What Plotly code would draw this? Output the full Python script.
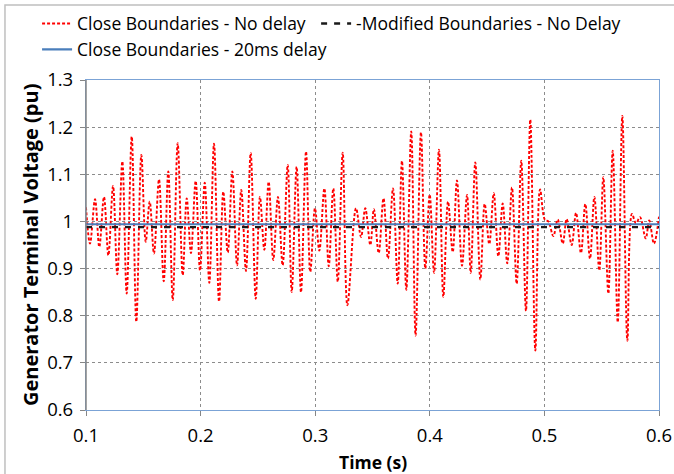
import plotly.graph_objects as go

# ---- data ----
t_close = [0.1000, 0.1035, 0.1079, 0.1116, 0.1157, 0.1195, 0.1236, 0.1273, 0.1317, 0.1355,
           0.1399, 0.1439, 0.1483, 0.1521, 0.1556, 0.1593, 0.1637, 0.1678, 0.1718, 0.1757,
           0.1800, 0.1844, 0.1879, 0.1916, 0.1957, 0.1995, 0.2036, 0.2076, 0.2117, 0.2161,
           0.2198, 0.2237, 0.2277, 0.2318, 0.2355, 0.2396, 0.2437, 0.2481, 0.2518, 0.2556,
           0.2594, 0.2634, 0.2675, 0.2716, 0.2760, 0.2795, 0.2838, 0.2876, 0.2920, 0.2957,
           0.2998, 0.3036, 0.3080, 0.3118, 0.3158, 0.3197, 0.3240, 0.3281, 0.3356, 0.3400,
           0.3437, 0.3481, 0.3512, 0.3554, 0.3596, 0.3635, 0.3679, 0.3720, 0.3757, 0.3795,
           0.3838, 0.3876, 0.3923, 0.3961, 0.3999, 0.4037, 0.4080, 0.4118, 0.4159, 0.4200,
           0.4237, 0.4281, 0.4325, 0.4357, 0.4397, 0.4441, 0.4479, 0.4519, 0.4558, 0.4598,
           0.4636, 0.4676, 0.4717, 0.4758, 0.4798, 0.4839, 0.4877, 0.4921, 0.4962, 0.5005,
           0.5034, 0.5078, 0.5116, 0.5160, 0.5194, 0.5238, 0.5276, 0.5319, 0.5357, 0.5398,
           0.5436, 0.5479, 0.5514, 0.5558, 0.5596, 0.5640, 0.5680, 0.5724, 0.5764, 0.5799,
           0.5834, 0.5884, 0.5915, 0.5956, 0.6000]
v_close = [1.030, 0.953, 1.047, 0.946, 1.052, 0.928, 1.075, 0.888, 1.127, 0.847,
           1.180, 0.787, 1.141, 0.957, 1.042, 0.932, 1.089, 0.873, 1.106, 0.833,
           1.166, 0.886, 1.049, 0.933, 1.086, 0.896, 1.082, 0.870, 1.165, 0.830,
           1.063, 0.934, 1.106, 0.907, 1.067, 0.895, 1.145, 0.836, 1.052, 0.940,
           1.084, 0.918, 1.052, 0.907, 1.120, 0.850, 1.116, 0.850, 1.148, 0.893,
           1.028, 0.938, 1.070, 0.905, 1.070, 0.872, 1.146, 0.822, 1.028, 0.967,
           1.028, 0.950, 1.026, 0.933, 1.049, 0.921, 1.070, 0.868, 1.128, 0.855,
           1.191, 0.758, 1.189, 0.900, 1.057, 0.891, 1.152, 0.840, 1.042, 0.935,
           1.087, 0.906, 1.056, 0.891, 1.125, 0.877, 1.037, 0.952, 1.060, 0.926,
           1.038, 0.911, 1.072, 0.868, 1.129, 0.810, 1.216, 0.726, 1.068, 1.003,
           1.000, 0.969, 1.004, 0.953, 1.005, 0.950, 1.018, 0.933, 1.037, 0.921,
           1.052, 0.896, 1.094, 0.847, 1.150, 0.786, 1.224, 0.747, 1.016, 0.996,
           1.009, 0.964, 1.002, 0.953, 1.010]

t_modified = [0.1, 0.6]
v_modified = [0.988, 0.988]

t_delay = [0.1, 0.6]
v_delay = [0.994, 0.994]

x_ticks = [0.1, 0.2, 0.3, 0.4, 0.5, 0.6]
y_ticks = [0.6, 0.7, 0.8, 0.9, 1.0, 1.1, 1.2, 1.3]
x_ticktext = ["0.1", "0.2", "0.3", "0.4", "0.5", "0.6"]
y_ticktext = ["0.6", "0.7", "0.8", "0.9", "1", "1.1", "1.2", "1.3"]

FONT = "Open Sans"

fig = go.Figure()
fig.add_trace(go.Scatter(
    x=t_close, y=v_close, mode="lines", name="Close Boundaries - No delay",
    legend="legend",
    line=dict(color="#FF0000", width=1.9, dash="3px,2px", shape="spline", smoothing=1.0)))
fig.add_trace(go.Scatter(
    x=t_modified, y=v_modified, mode="lines", name="-Modified Boundaries - No Delay",
    legend="legend2",
    line=dict(color="#1A1A1A", width=2.4, dash="6px,7px")))
fig.add_trace(go.Scatter(
    x=t_delay, y=v_delay, mode="lines", name="Close Boundaries - 20ms delay",
    legend="legend",
    line=dict(color="#4A7EBB", width=2.2)))

legend_common = dict(orientation="v", xref="container", yref="container",
                     xanchor="left", yanchor="top",
                     font=dict(family=FONT, size=17.5, color="#000000"),
                     itemwidth=30, bgcolor="rgba(0,0,0,0)", tracegroupgap=0)

fig.update_layout(
    width=674, height=474,
    margin=dict(l=86, r=15, t=80, b=64, autoexpand=False),
    paper_bgcolor="white", plot_bgcolor="white",
    font=dict(family=FONT, size=18.5, color="#000000"),
    showlegend=True,
    legend=dict(x=0.055, y=0.988, **legend_common),
    legend2=dict(x=0.469, y=0.988, **legend_common),
    xaxis=dict(range=[0.1, 0.6], tickvals=x_ticks, ticktext=x_ticktext,
               showgrid=True, gridcolor="#8C8C8C", griddash="dot", gridwidth=1,
               ticks="outside", ticklen=5, tickcolor="#868686",
               showline=True, linecolor="#7BA3D6", linewidth=1.3, mirror=True,
               zeroline=False, tickfont=dict(size=18.5), ticklabelstandoff=4),
    yaxis=dict(range=[0.6, 1.3], tickvals=y_ticks, ticktext=y_ticktext,
               showgrid=True, gridcolor="#8C8C8C", griddash="dot", gridwidth=1,
               ticks="outside", ticklen=5, tickcolor="#868686",
               showline=True, linecolor="#7BA3D6", linewidth=1.3, mirror=True,
               zeroline=False, tickfont=dict(size=18.5), ticklabelstandoff=3),
)

# axis titles
fig.add_annotation(text="<b>Time (s)</b>", xref="paper", yref="paper",
                   x=0.5, y=-0.1576, xanchor="center", yanchor="middle",
                   showarrow=False, font=dict(family=FONT, size=17.5, color="#000000"))
fig.add_annotation(text="<b>Generator Terminal Voltage (pu)</b>", xref="paper", yref="paper",
                   x=-0.0977, y=0.5, xanchor="center", yanchor="middle", textangle=-90,
                   showarrow=False, font=dict(family=FONT, size=20, color="#000000"))

# grey value axis line on the left
fig.add_shape(type="line", xref="paper", yref="paper", x0=0, x1=0, y0=0, y1=1,
              line=dict(color="#868686", width=1.5), layer="above")
# outer chart border
fig.add_shape(type="rect", xref="paper", yref="paper",
              x0=-0.1414, x1=1.2, y0=-0.5, y1=1.227,
              line=dict(color="#BFBFBF", width=1.5), layer="below")

fig.write_html("out.html")
